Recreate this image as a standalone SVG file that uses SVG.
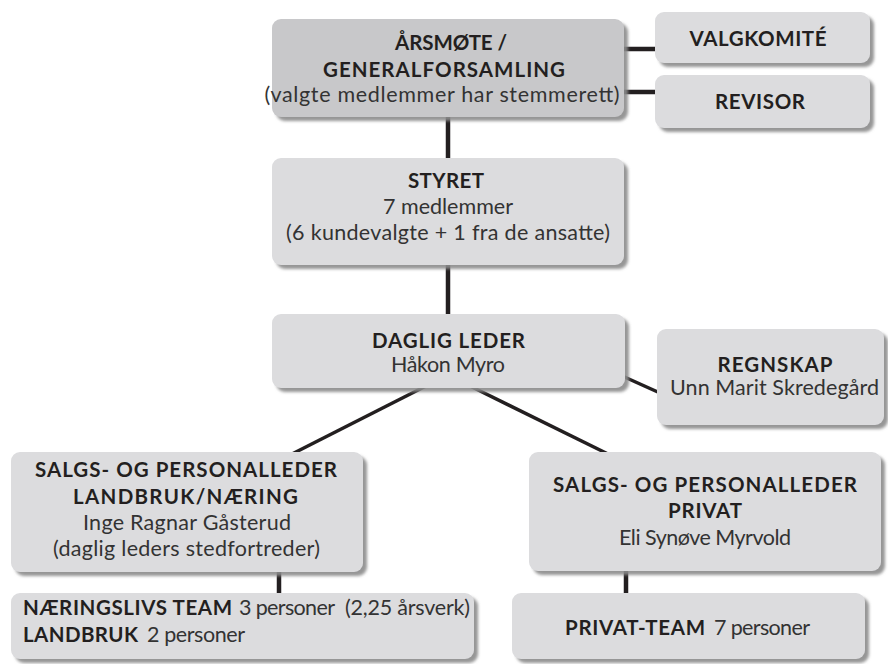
<svg xmlns="http://www.w3.org/2000/svg" width="888" height="664" viewBox="0 0 888 664">
<defs>
<filter id="sh" x="-10%" y="-20%" width="125%" height="150%">
<feDropShadow dx="4" dy="4" stdDeviation="1.6" flood-color="#8a8a8a" flood-opacity="0.9"/>
</filter>
<style>
.box{fill:#dcdcde;filter:url(#sh)}
.dark{fill:#c8c8ca}
.b{font-family:Lato,"Liberation Sans",sans-serif;font-weight:700;font-size:20.5px;fill:#231f20}
.r{font-family:Lato,"Liberation Sans",sans-serif;font-weight:400;font-size:21.5px;fill:#333}
.m{text-anchor:middle}
.ln{stroke:#231f20;stroke-width:4.5;fill:none}
.dg{stroke:#231f20;stroke-width:3.5;fill:none}
</style>
</defs>
<rect width="888" height="664" fill="#fff"/>
<g id="connectors">
<line class="ln" x1="620" y1="49" x2="658" y2="49"/>
<line class="ln" x1="620" y1="92" x2="658" y2="92"/>
<line class="ln" x1="448" y1="115" x2="448" y2="160"/>
<line class="ln" x1="448" y1="263" x2="448" y2="316"/>
<line class="dg" x1="620" y1="375" x2="660" y2="393"/>
<line class="dg" x1="426" y1="386" x2="292" y2="454"/>
<line class="dg" x1="470" y1="386" x2="608" y2="454"/>
<line class="ln" x1="279" y1="570" x2="279" y2="595"/>
<line class="ln" x1="626" y1="569" x2="626" y2="595"/>
</g>
<g id="arsmote">
<rect class="box dark" x="272" y="19" width="352" height="98" rx="9"/>
<text class="b m" x="451" y="50" textLength="112">ÅRSMØTE /</text>
<text class="b m" x="444" y="77" textLength="242">GENERALFORSAMLING</text>
<text class="r m" x="442" y="102" textLength="355">(valgte medlemmer har stemmerett)</text>
</g>
<g id="valgkomite">
<rect class="box" x="655" y="12" width="215" height="51" rx="9"/>
<text class="b m" x="758" y="46" textLength="137">VALGKOMITÉ</text>
</g>
<g id="revisor">
<rect class="box" x="655" y="75" width="215" height="53" rx="9"/>
<text class="b m" x="760" y="109" textLength="90">REVISOR</text>
</g>
<g id="styret">
<rect class="box" x="272" y="158" width="352" height="107" rx="9"/>
<text class="b m" x="446" y="188" textLength="76">STYRET</text>
<text class="r m" x="448" y="214" textLength="130">7 medlemmer</text>
<text class="r m" x="448" y="240" textLength="324">(6 kundevalgte + 1 fra de ansatte)</text>
</g>
<g id="daglig">
<rect class="box" x="272" y="314" width="353" height="74" rx="9"/>
<text class="b m" x="448.5" y="348" textLength="153">DAGLIG LEDER</text>
<text class="r m" x="448" y="372" textLength="114">Håkon Myro</text>
</g>
<g id="regnskap">
<rect class="box" x="657" y="329" width="227" height="96" rx="9"/>
<text class="b m" x="775" y="372" textLength="115">REGNSKAP</text>
<text class="r m" x="774.5" y="395" textLength="209">Unn Marit Skredegård</text>
</g>
<g id="landbruk">
<rect class="box" x="11" y="452" width="352" height="120" rx="9"/>
<text class="b m" x="186" y="477" textLength="302">SALGS- OG PERSONALLEDER</text>
<text class="b m" x="185.5" y="504" textLength="225">LANDBRUK/NÆRING</text>
<text class="r m" x="187" y="530" textLength="208">Inge Ragnar Gåsterud</text>
<text class="r m" x="186.5" y="556" textLength="267">(daglig leders stedfortreder)</text>
</g>
<g id="privat">
<rect class="box" x="529" y="452" width="352" height="119" rx="9"/>
<text class="b m" x="705" y="492" textLength="304">SALGS- OG PERSONALLEDER</text>
<text class="b m" x="705" y="518" textLength="74">PRIVAT</text>
<text class="r m" x="705" y="545" textLength="172">Eli Synøve Myrvold</text>
</g>
<g id="team">
<rect class="box" x="11" y="593" width="463" height="66" rx="9"/>
<text class="b" x="23" y="615" textLength="209">NÆRINGSLIVS TEAM</text>
<text class="r" x="239" y="615" textLength="96">3 personer</text>
<text class="r" x="345" y="615" textLength="125">(2,25 årsverk)</text>
<text class="b" x="23" y="642" textLength="115">LANDBRUK</text>
<text class="r" x="147" y="642" textLength="98">2 personer</text>
</g>
<g id="privatteam">
<rect class="box" x="512" y="593" width="353" height="66" rx="9"/>
<text class="b" x="565" y="635" textLength="140">PRIVAT-TEAM</text>
<text class="r" x="714" y="635" textLength="96">7 personer</text>
</g>
</svg>
